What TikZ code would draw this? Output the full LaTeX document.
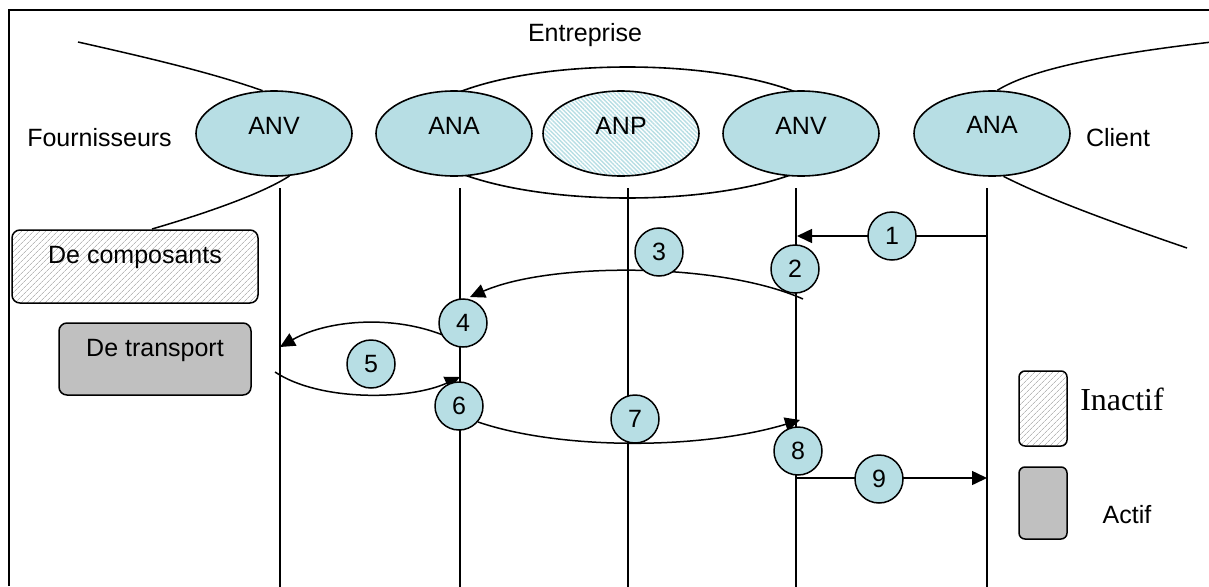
\documentclass[tikz,border=0pt]{standalone}
\usepackage{fontspec}
\setmainfont{Liberation Sans}
\newfontfamily\timesfont{Liberation Serif}
\usetikzlibrary{shapes.geometric,arrows.meta,patterns.meta}
\definecolor{tealfill}{RGB}{183,222,228}
\definecolor{graybox}{RGB}{192,192,192}
\definecolor{hatchgray}{RGB}{185,185,185}
\begin{document}
\begin{tikzpicture}[x=1pt,y=-1pt,
  every node/.style={font=\fontsize{25}{30}\selectfont, inner sep=0pt},
  line/.style={line width=1.5pt},
  arr/.style={line width=1.5pt, -{Triangle[length=15pt,width=14pt]}},
  agent/.style={ellipse, draw, line width=1.6pt, fill=tealfill, minimum width=156pt, minimum height=85pt},
  hatchagent/.style={ellipse, draw, line width=1.6pt, preaction={fill=white},
     pattern={Lines[angle=-45,distance=3pt,line width=1.4pt]}, pattern color=tealfill,
     minimum width=156pt, minimum height=85pt},
  numc/.style={circle, draw, line width=1.5pt, fill=tealfill, minimum size=48pt},
  hatchbox/.style={draw, line width=1.5pt, rounded corners=8pt, preaction={fill=white},
     pattern={Lines[angle=45,distance=4pt,line width=0.8pt]}, pattern color=hatchgray},
  solidbox/.style={draw, line width=1.5pt, rounded corners=8pt, fill=graybox}
]
\useasboundingbox (0,0) rectangle (1209,586);
\clip (0,0) rectangle (1209,586);
% frame
\coordinate (fr1) at (9,586);
\coordinate (fr2) at (9,10);
\coordinate (fr3) at (1215,10);
\draw[line width=1.8pt] (fr1) -- (fr2) -- (fr3);

\node (ent) at (585,35) {Entreprise};
\node (four) at (99.5,138) {Fournisseurs};
\node (cli) at (1118,138) {Client};

% enterprise ellipse
\node[ellipse, draw, line width=1.6pt, minimum width=428pt, minimum height=131pt] (entell) at (627.5,132.5) {};

% agents
\node[agent, label={[yshift=8pt]center:ANV}] (anv1) at (274,133.5) {};
\node[agent, label={[yshift=8pt]center:ANA}] (ana1) at (454,133.5) {};
\node[hatchagent, label={[yshift=8pt]center:ANP}] (anp) at (621,133.5) {};
\node[agent, label={[yshift=8pt]center:ANV}] (anv2) at (801,133.5) {};
\node[agent, label={[yshift=9pt]center:ANA}] (ana2) at (992,133.5) {};

% boundary curves
\coordinate (ftop) at (78,42);
\coordinate (fbot) at (152,229);
\coordinate (ctop) at (1212,42);
\coordinate (cbot) at (1187,248);
\draw[line] (ftop) .. controls (140,56) and (210,72) .. (anv1.105);
\draw[line] (anv1.-70) .. controls (260,195) and (200,215) .. (fbot);
\draw[line] (ana2.83) .. controls (1030,70) and (1100,55) .. (ctop);
\draw[line] (ana2.-75) .. controls (1050,200) and (1120,225) .. (cbot);

% boxes
\node[hatchbox, minimum width=246pt, minimum height=73pt, label={[yshift=9pt]center:De composants}] (comp) at (135,266.5) {};
\node[solidbox, minimum width=192pt, minimum height=72pt, label={[yshift=9pt]center:De transport}] (trans) at (155,359) {};

% lifelines
\foreach \n/\x in {1/280,2/460,3/628,4/796,5/987}{
  \coordinate (lt\n) at (\x,188);
  \coordinate (lb\n) at (\x,590);
  \draw[line] (lt\n) -- (lb\n);
}

% arrows
\coordinate (a1s) at (987,236); \coordinate (a1e) at (797,236);
\coordinate (a3s) at (803,299); \coordinate (a3e) at (470,297);
\coordinate (a4s) at (467,347); \coordinate (a4e) at (280,347);
\coordinate (a5s) at (275,372); \coordinate (a5e) at (460,377);
\coordinate (a6s) at (478,422); \coordinate (a6e) at (800,420);
\coordinate (a9s) at (796,478); \coordinate (a9e) at (987,478);
\draw[arr] (a1s) -- (a1e);
\draw[arr] (a3s) .. controls (720,262) and (550,262) .. (a3e);
\draw[arr] (a4s) .. controls (410,312) and (330,318) .. (a4e);
\draw[arr] (a5s) .. controls (320,402) and (410,400) .. (a5e);
\draw[arr] (a6s) .. controls (560,450) and (700,450) .. (a6e);
\draw[arr] (a9s) -- (a9e);

% numbered circles
\node[numc] (c1) at (892,236) {1};
\node[numc] (c2) at (795,269) {2};
\node[numc] (c3) at (659,252) {3};
\node[numc] (c4) at (463,323) {4};
\node[numc] (c5) at (371,364) {5};
\node[numc] (c6) at (459,406) {6};
\node[numc] (c7) at (635,419) {7};
\node[numc] (c8) at (798,451) {8};
\node[numc] (c9) at (879,479) {9};

% legend
\node[hatchbox, rounded corners=6pt, minimum width=48pt, minimum height=75pt] (inact) at (1043,408.5) {};
\node[solidbox, rounded corners=6pt, minimum width=48pt, minimum height=72pt] (act) at (1043,503) {};
\node[font=\timesfont\fontsize{32}{38}\selectfont] (inacttxt) at (1122,399) {Inactif};
\node (acttxt) at (1127,515) {Actif};
\end{tikzpicture}
\end{document}
